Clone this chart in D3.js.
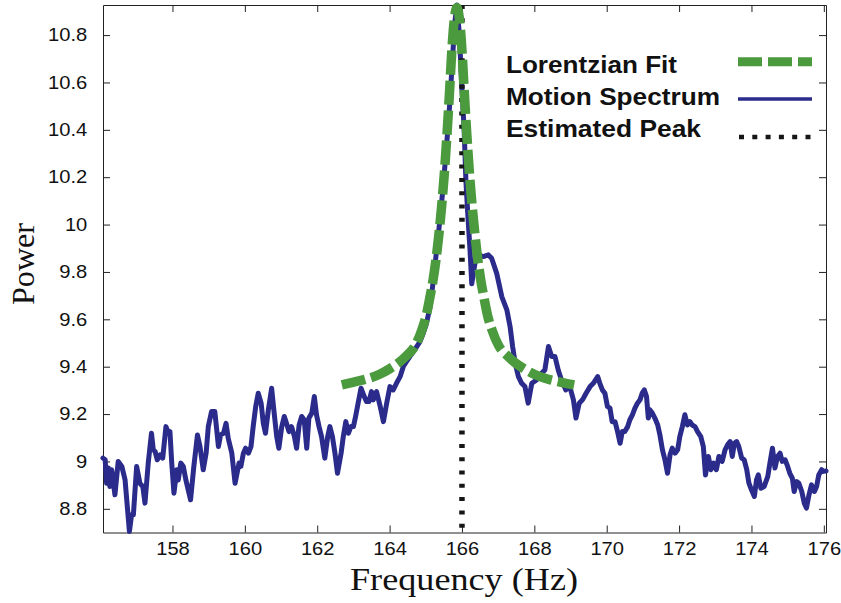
<!DOCTYPE html>
<html><head><meta charset="utf-8">
<script src="https://cdn.jsdelivr.net/npm/d3@7"></script>
<style>body{margin:0;background:#fff}svg{display:block}</style>
</head><body><svg id="c" width="841" height="603"></svg>
<script>
// Motion spectrum (Hz, power)
const freq = [156.08,156.14,156.18,156.23,156.27,156.32,156.41,156.50,156.60,156.69,156.81,156.87,156.92,157.01,157.10,157.18,157.24,157.33,157.42,157.47,157.52,157.58,157.66,157.73,157.82,157.89,157.93,157.98,158.04,158.12,158.16,158.23,158.30,158.37,158.50,158.59,158.69,158.76,158.85,158.93,158.99,159.08,159.17,159.27,159.33,159.41,159.48,159.54,159.64,159.73,
159.84,159.89,159.96,160.02,160.10,160.17,160.23,160.30,160.37,160.45,160.51,160.57,160.65,160.74,160.81,160.88,160.94,161.02,161.09,161.15,161.22,161.29,161.37,161.43,161.50,161.57,161.64,161.71,161.77,161.85,161.92,161.98,162.05,162.12,162.21,162.29,162.35,162.42,162.49,162.56,162.66,162.72,162.79,162.86,162.93,163.00,163.06,163.13,163.21,163.30,163.36,163.43,163.50,
163.55,163.64,163.73,163.83,163.92,164.01,164.10,164.19,164.29,164.38,164.47,164.56,164.66,164.75,164.84,164.93,165.02,165.12,165.21,165.30,165.39,165.48,165.58,165.67,165.74,165.81,165.86,165.93,165.99,166.06,166.11,166.17,166.22,166.27,
166.36,166.45,166.59,166.73,166.82,166.96,167.10,167.24,167.33,167.40,167.47,167.56,167.65,167.74,167.83,167.93,168.06,168.20,168.29,168.39,168.48,168.57,168.66,168.75,168.87,168.98,169.08,169.15,169.24,169.33,169.43,169.54,169.63,
169.75,169.81,169.88,169.95,170.02,170.09,170.15,170.23,170.30,170.37,170.43,170.50,170.58,170.64,170.71,170.78,170.85,170.92,170.98,171.04,171.10,171.15,171.19,171.26,171.33,171.41,171.47,171.54,171.61,171.68,171.75,171.81,171.89,171.96,172.02,172.09,172.16,172.23,172.30,172.36,172.44,172.51,172.60,172.67,172.73,172.81,172.88,172.95,173.03,173.10,
173.13,173.19,173.27,173.34,173.41,173.47,173.53,173.59,173.65,173.73,173.80,173.87,173.93,174.00,174.08,174.14,174.19,174.26,174.35,174.45,174.51,174.58,174.65,174.72,174.79,174.85,174.93,175.00,175.06,175.13,175.18,175.25,175.31,175.39,175.46,175.52,175.59,175.66,175.74,175.80,175.86,175.94,175.98,176.06];
const power = [9.014,9.007,8.908,8.972,8.894,8.965,8.859,9.000,8.979,8.922,8.704,8.775,8.775,8.979,8.908,8.894,8.824,8.993,9.119,9.049,9.042,9.007,9.028,9.014,9.147,9.119,9.126,8.993,8.866,8.965,8.922,8.993,8.979,8.922,8.838,8.979,9.112,9.063,8.965,9.035,9.147,9.211,9.211,9.063,9.112,9.119,9.161,9.098,9.035,8.908,
8.993,8.979,9.035,9.056,9.035,9.063,9.147,9.232,9.288,9.246,9.161,9.119,9.218,9.309,9.204,9.105,9.056,9.147,9.190,9.161,9.126,9.147,9.105,9.056,9.154,9.190,9.176,9.056,9.183,9.204,9.274,9.197,9.147,9.105,9.014,9.105,9.147,9.105,9.035,8.950,9.035,9.105,9.168,9.119,9.147,9.147,9.190,9.246,9.309,9.274,9.253,9.253,9.295,
9.260,9.295,9.239,9.168,9.246,9.316,9.302,9.330,9.358,9.401,9.422,9.443,9.464,9.485,9.506,9.541,9.583,9.654,9.766,9.893,10.019,10.160,10.343,10.526,10.709,10.863,10.927,10.80,10.60,10.40,10.18,10.02,9.90,9.75,
9.837,9.872,9.865,9.872,9.858,9.794,9.696,9.640,9.569,9.485,9.415,9.358,9.330,9.316,9.246,9.330,9.344,9.372,9.386,9.485,9.443,9.443,9.386,9.344,9.302,9.316,9.260,9.183,9.246,9.260,9.288,9.316,9.330,
9.358,9.330,9.302,9.288,9.232,9.225,9.168,9.168,9.126,9.077,9.126,9.126,9.147,9.176,9.197,9.225,9.246,9.260,9.288,9.302,9.274,9.183,9.218,9.204,9.183,9.154,9.112,9.049,9.007,8.950,9.028,9.056,9.035,9.049,9.105,9.147,9.197,9.154,9.168,9.154,9.147,9.126,9.105,9.063,8.943,9.021,8.965,8.993,8.965,9.021,
9.014,9.000,9.049,9.070,9.084,9.021,9.077,9.084,9.063,9.014,9.007,8.965,8.908,8.880,8.852,8.922,8.943,8.887,8.894,8.936,8.993,9.056,8.972,9.021,9.035,9.000,9.007,8.979,8.950,8.929,8.873,8.915,8.908,8.873,8.824,8.803,8.859,8.901,8.873,8.894,8.943,8.965,8.958,8.960];

// Lorentzian fit
const fitFreq = [162.68,163.01,163.36,163.71,164.01,164.26,164.46,164.71,164.89,165.01,165.11,165.20,165.28,165.36,165.44,165.51,165.59,165.66,165.71,165.76,165.81,165.86,
165.91,165.96,166.01,166.06,166.13,166.21,166.28,166.36,166.44,166.52,166.61,166.71,166.83,167.01,167.26,167.46,167.71,168.01,168.36,168.71,169.10];
const fitPower = [9.323,9.335,9.348,9.367,9.392,9.418,9.445,9.490,9.555,9.615,9.690,9.765,9.850,9.955,10.080,10.210,10.390,10.570,10.710,10.820,10.890,10.915,
10.890,10.820,10.710,10.570,10.390,10.210,10.080,9.955,9.850,9.765,9.690,9.615,9.555,9.490,9.445,9.418,9.392,9.367,9.348,9.335,9.323];

const estimatedPeak = 166.0;

const xTicks = [158,160,162,164,166,168,170,172,174,176];
const yTicks = [8.8,9.0,9.2,9.4,9.6,9.8,10.0,10.2,10.4,10.6,10.8];
const yTickLabels = ["8.8","9","9.2","9.4","9.6","9.8","10","10.2","10.4","10.6","10.8"];
const legendLabels = ["Lorentzian Fit","Motion Spectrum","Estimated Peak"];

const blue = "#2a2b8b", green = "#4c9a3e", black = "#161616";

const svg = d3.select("#c");
const x = d3.scaleLinear().domain([156.08,176.06]).range([103,826]);
const y = d3.scaleLinear().domain([8.70,10.927]).range([532.5,5]);

const tickFont = "'Liberation Sans', Arial, Helvetica, sans-serif";

function styleAxis(g){
  g.attr("font-family", tickFont).attr("font-size", 18);
  g.selectAll(".domain").attr("stroke","#222").attr("stroke-width",1);
  g.selectAll(".tick line").attr("stroke","#222").attr("stroke-width",1);
  g.selectAll(".tick text").attr("fill","#111");
}

// bottom axis
const gx = svg.append("g").attr("transform","translate(0,532.5)")
  .call(d3.axisBottom(x).tickValues(xTicks).tickSizeInner(-7).tickSizeOuter(0).tickPadding(10).tickFormat(d3.format("d")));
styleAxis(gx);
gx.selectAll(".tick text").attr("transform","scale(1.12,1)");

// top axis
const gt = svg.append("g").attr("transform","translate(0,5)")
  .call(d3.axisTop(x).tickValues(xTicks).tickSizeInner(-7).tickSizeOuter(0).tickFormat(()=>""));
styleAxis(gt);

// left axis
const gy = svg.append("g").attr("transform","translate(103,0)")
  .call(d3.axisLeft(y).tickValues(yTicks).tickSizeInner(-7).tickSizeOuter(0).tickPadding(14).tickFormat((d,i)=>yTickLabels[i]));
styleAxis(gy);
gy.selectAll(".tick text").attr("transform","scale(1.12,1)");

// right axis
const gr = svg.append("g").attr("transform","translate(826,0)")
  .call(d3.axisRight(y).tickValues(yTicks).tickSizeInner(-7).tickSizeOuter(0).tickFormat(()=>""));
styleAxis(gr);

// motion spectrum
const spec = freq.map((f,i)=>[f,power[i]]);
const line = d3.line().x(d=>x(d[0])).y(d=>y(d[1]));
svg.append("path").datum(spec).attr("d",line)
  .attr("fill","none").attr("stroke",blue).attr("stroke-width",5)
  .attr("stroke-linejoin","round").attr("stroke-linecap","round");

// estimated peak
svg.append("line")
  .attr("x1",x(estimatedPeak)).attr("x2",x(estimatedPeak))
  .attr("y1",y.range()[1]).attr("y2",y.range()[0])
  .attr("stroke",black).attr("stroke-width",5.5).attr("stroke-dasharray","4,9.3");

// lorentzian fit
const fit = fitFreq.map((f,i)=>[f,fitPower[i]]);
svg.append("path").datum(fit).attr("d",d3.line().x(d=>x(d[0])).y(d=>y(d[1])).curve(d3.curveMonotoneX))
  .attr("fill","none").attr("stroke",green).attr("stroke-width",9.5)
  .attr("stroke-dasharray","24,6");

// legend
const legY = [72.5, 104.5, 136.5];
const legW = [171, 214, 195];
const lg = svg.append("g");
legendLabels.forEach((t,i)=>{
  lg.append("text").attr("x",506).attr("y",legY[i])
    .attr("font-family",tickFont).attr("font-weight","bold").attr("font-size",24)
    .attr("fill","#111").attr("textLength",legW[i]).attr("lengthAdjust","spacingAndGlyphs")
    .text(t);
});
lg.append("line").attr("x1",738).attr("x2",812).attr("y1",61.7).attr("y2",61.7)
  .attr("stroke",green).attr("stroke-width",9).attr("stroke-dasharray","24,6");
lg.append("line").attr("x1",738).attr("x2",812).attr("y1",99).attr("y2",99)
  .attr("stroke",blue).attr("stroke-width",3.5);
lg.append("line").attr("x1",739).attr("x2",812).attr("y1",137).attr("y2",137)
  .attr("stroke",black).attr("stroke-width",4.5).attr("stroke-dasharray","5,8.3");

// axis titles
svg.append("text").attr("x",464).attr("y",590).attr("text-anchor","middle")
  .attr("font-family","'Liberation Serif','Times New Roman',serif").attr("font-size",31)
  .attr("fill","#111").attr("textLength",228).attr("lengthAdjust","spacingAndGlyphs")
  .text("Frequency (Hz)");
svg.append("text").attr("transform","translate(34,264) rotate(-90)").attr("text-anchor","middle")
  .attr("font-family","'Liberation Serif','Times New Roman',serif").attr("font-size",31)
  .attr("fill","#111").attr("textLength",82).attr("lengthAdjust","spacingAndGlyphs")
  .text("Power");
</script>
</body></html>
